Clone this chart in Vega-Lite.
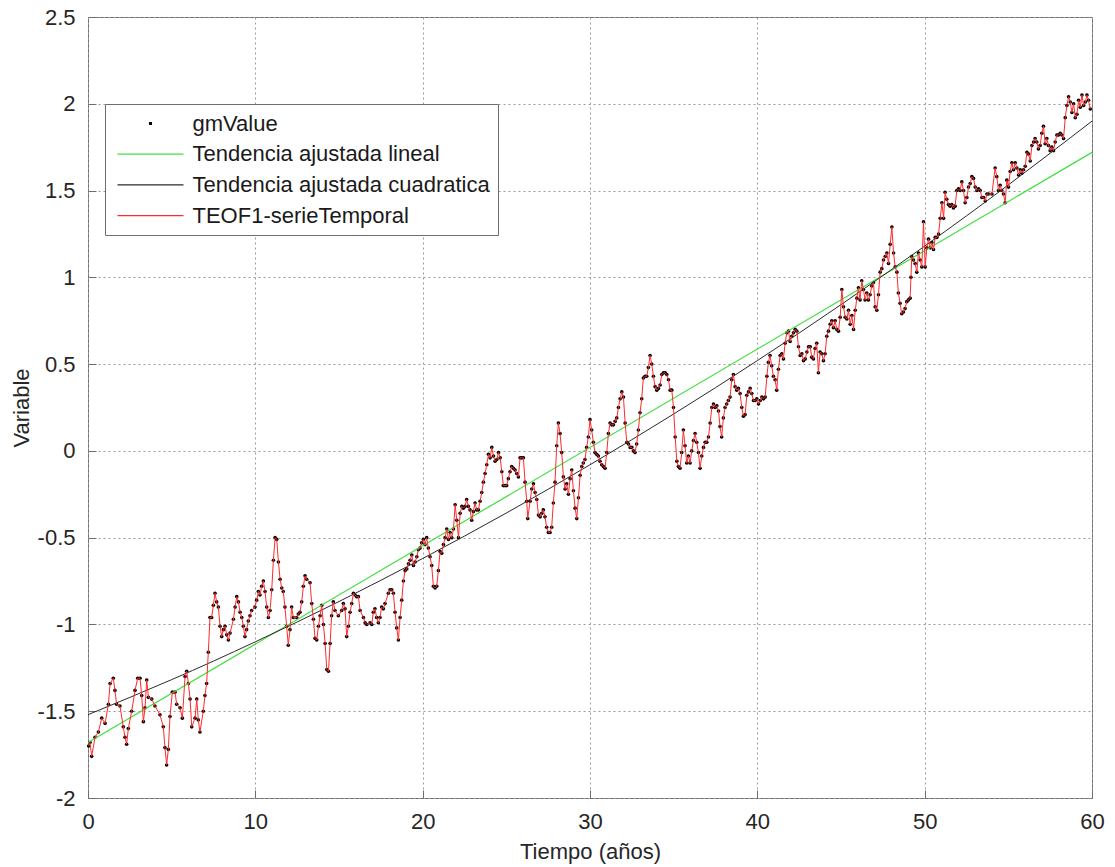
{
"$schema": "https://vega.github.io/schema/vega-lite/v6.json",
"width": 1004, "height": 781,
"autosize": {"type": "none"},
"padding": {"left": 88, "top": 17, "right": 23, "bottom": 69},
"background": "white",
"config": {"font": "Liberation Sans", "view": {"stroke": "#6e6e6e", "strokeWidth": 1}},
"datasets": {
"lin": [{"t":0,"v":-1.68},{"t":60,"v":1.72}],
"cuad": [{"t":0,"v":-1.52},{"t":5,"v":-1.318},{"t":10,"v":-1.10},{"t":15,"v":-0.868},{"t":20,"v":-0.62},{"t":25,"v":-0.358},{"t":30,"v":-0.08},{"t":35,"v":0.2125},{"t":40,"v":0.52},{"t":45,"v":0.8425},{"t":50,"v":1.18},{"t":55,"v":1.5325},{"t":60,"v":1.90}],
"serie": [
{"t":0.04,"v":-1.70},{"t":0.12,"v":-1.68},{"t":0.22,"v":-1.76},{"t":0.42,"v":-1.65},{"t":0.62,"v":-1.62},{"t":0.82,"v":-1.54},{"t":1.02,"v":-1.57},{"t":1.22,"v":-1.46},{"t":1.32,"v":-1.34},{"t":1.51,"v":-1.31},{"t":1.61,"v":-1.38},{"t":1.71,"v":-1.46},{"t":1.91,"v":-1.47},{"t":2.11,"v":-1.59},{"t":2.21,"v":-1.65},{"t":2.31,"v":-1.69},{"t":2.41,"v":-1.60},{"t":2.61,"v":-1.50},{"t":2.81,"v":-1.38},{"t":2.97,"v":-1.31},{"t":3.11,"v":-1.31},{"t":3.21,"v":-1.41},{"t":3.31,"v":-1.56},{"t":3.41,"v":-1.48},{"t":3.51,"v":-1.32},{"t":3.61,"v":-1.42},{"t":3.81,"v":-1.43},{"t":4.00,"v":-1.47},{"t":4.30,"v":-1.52},{"t":4.50,"v":-1.59},{"t":4.60,"v":-1.71},{"t":4.70,"v":-1.81},{"t":4.80,"v":-1.72},{"t":4.90,"v":-1.53},{"t":5.04,"v":-1.39},{"t":5.20,"v":-1.39},{"t":5.30,"v":-1.46},{"t":5.50,"v":-1.48},{"t":5.64,"v":-1.54},{"t":5.80,"v":-1.30},{"t":5.90,"v":-1.27},
{"t":6.00,"v":-1.34},{"t":6.10,"v":-1.43},{"t":6.20,"v":-1.59},{"t":6.40,"v":-1.54},{"t":6.50,"v":-1.43},{"t":6.59,"v":-1.55},{"t":6.69,"v":-1.62},{"t":6.89,"v":-1.50},{"t":6.99,"v":-1.41},{"t":7.09,"v":-1.34},{"t":7.19,"v":-1.16},{"t":7.29,"v":-0.96},{"t":7.39,"v":-0.96},{"t":7.49,"v":-0.89},{"t":7.59,"v":-0.82},{"t":7.69,"v":-0.87},{"t":7.79,"v":-0.90},{"t":7.89,"v":-1.01},{"t":7.99,"v":-1.07},{"t":8.09,"v":-1.03},{"t":8.19,"v":-1.01},{"t":8.29,"v":-1.06},{"t":8.39,"v":-1.09},{"t":8.49,"v":-1.05},{"t":8.69,"v":-0.97},{"t":8.79,"v":-0.90},{"t":8.89,"v":-0.84},{"t":8.99,"v":-0.87},{"t":9.09,"v":-0.93},{"t":9.19,"v":-0.96},{"t":9.28,"v":-1.01},{"t":9.38,"v":-1.07},{"t":9.48,"v":-1.03},{"t":9.58,"v":-0.98},{"t":9.68,"v":-0.95},{"t":9.78,"v":-0.92},{"t":9.98,"v":-0.90},
{"t":10.08,"v":-0.86},{"t":10.18,"v":-0.81},{"t":10.28,"v":-0.83},{"t":10.38,"v":-0.78},{"t":10.48,"v":-0.75},{"t":10.58,"v":-0.81},{"t":10.68,"v":-0.90},{"t":10.78,"v":-0.96},{"t":10.88,"v":-0.92},{"t":10.98,"v":-0.80},{"t":11.08,"v":-0.63},{"t":11.18,"v":-0.50},{"t":11.28,"v":-0.51},{"t":11.38,"v":-0.64},{"t":11.48,"v":-0.74},{"t":11.58,"v":-0.79},{"t":11.67,"v":-0.81},{"t":11.77,"v":-0.90},{"t":11.87,"v":-1.01},{"t":11.97,"v":-1.12},{"t":12.07,"v":-1.03},{"t":12.17,"v":-0.90},{"t":12.27,"v":-0.96},{"t":12.47,"v":-0.96},{"t":12.57,"v":-0.94},{"t":12.67,"v":-0.93},{"t":12.77,"v":-0.87},{"t":12.87,"v":-0.78},{"t":12.97,"v":-0.72},{"t":13.07,"v":-0.74},{"t":13.27,"v":-0.76},{"t":13.37,"v":-0.88},{"t":13.47,"v":-0.97},{"t":13.57,"v":-1.08},{"t":13.67,"v":-1.09},{"t":13.77,"v":-1.01},{"t":13.87,"v":-0.95},{"t":13.97,"v":-0.89},{"t":14.07,"v":-1.00},{"t":14.17,"v":-1.11},{"t":14.27,"v":-1.26},{"t":14.37,"v":-1.27},{"t":14.47,"v":-1.11},{"t":14.56,"v":-0.95},{"t":14.66,"v":-0.87},{"t":14.76,"v":-0.92},{"t":14.96,"v":-0.95},
{"t":15.16,"v":-0.92},{"t":15.26,"v":-0.88},{"t":15.36,"v":-0.91},{"t":15.46,"v":-1.07},{"t":15.56,"v":-1.01},{"t":15.66,"v":-0.93},{"t":15.76,"v":-0.88},{"t":15.86,"v":-0.82},{"t":15.96,"v":-0.83},{"t":16.06,"v":-0.84},{"t":16.16,"v":-0.84},{"t":16.26,"v":-0.92},{"t":16.46,"v":-0.96},{"t":16.56,"v":-0.99},{"t":16.66,"v":-1.00},{"t":16.86,"v":-0.99},{"t":16.96,"v":-1.00},{"t":17.05,"v":-0.93},{"t":17.15,"v":-0.91},{"t":17.25,"v":-0.96},{"t":17.35,"v":-0.99},{"t":17.45,"v":-0.96},{"t":17.55,"v":-0.90},{"t":17.65,"v":-0.91},{"t":17.75,"v":-0.88},{"t":17.95,"v":-0.82},{"t":18.05,"v":-0.80},{"t":18.15,"v":-0.80},{"t":18.25,"v":-0.82},{"t":18.35,"v":-0.93},{"t":18.45,"v":-1.02},{"t":18.55,"v":-1.09},{"t":18.65,"v":-0.96},{"t":18.75,"v":-0.86},{"t":18.85,"v":-0.75},{"t":18.95,"v":-0.69},{"t":19.05,"v":-0.68},{"t":19.15,"v":-0.65},{"t":19.25,"v":-0.63},{"t":19.35,"v":-0.60},{"t":19.45,"v":-0.66},{"t":19.55,"v":-0.64},{"t":19.65,"v":-0.61},{"t":19.74,"v":-0.57},{"t":19.84,"v":-0.56},{"t":19.94,"v":-0.53},
{"t":20.04,"v":-0.51},{"t":20.14,"v":-0.54},{"t":20.24,"v":-0.50},{"t":20.34,"v":-0.56},{"t":20.44,"v":-0.61},{"t":20.54,"v":-0.66},{"t":20.64,"v":-0.78},{"t":20.74,"v":-0.79},{"t":20.84,"v":-0.78},{"t":20.94,"v":-0.69},{"t":21.04,"v":-0.58},{"t":21.14,"v":-0.59},{"t":21.24,"v":-0.54},{"t":21.34,"v":-0.50},{"t":21.44,"v":-0.45},{"t":21.54,"v":-0.51},{"t":21.64,"v":-0.47},{"t":21.74,"v":-0.50},{"t":21.84,"v":-0.45},{"t":21.94,"v":-0.31},{"t":22.04,"v":-0.40},{"t":22.14,"v":-0.50},{"t":22.24,"v":-0.36},{"t":22.34,"v":-0.32},{"t":22.43,"v":-0.33},{"t":22.53,"v":-0.32},{"t":22.63,"v":-0.28},{"t":22.73,"v":-0.32},{"t":22.83,"v":-0.34},{"t":22.93,"v":-0.40},{"t":23.03,"v":-0.35},{"t":23.13,"v":-0.30},{"t":23.23,"v":-0.34},{"t":23.33,"v":-0.34},{"t":23.43,"v":-0.29},{"t":23.53,"v":-0.24},{"t":23.63,"v":-0.18},{"t":23.73,"v":-0.13},{"t":23.83,"v":-0.08},{"t":23.93,"v":-0.02},{"t":24.03,"v":-0.04},{"t":24.13,"v":0.02},{"t":24.23,"v":-0.03},{"t":24.33,"v":-0.06},{"t":24.43,"v":-0.05},{"t":24.53,"v":-0.01},{"t":24.63,"v":-0.04},{"t":24.73,"v":-0.12},{"t":24.82,"v":-0.20},{"t":24.92,"v":-0.20},
{"t":25.02,"v":-0.20},{"t":25.12,"v":-0.16},{"t":25.22,"v":-0.12},{"t":25.32,"v":-0.09},{"t":25.42,"v":-0.10},{"t":25.52,"v":-0.11},{"t":25.62,"v":-0.13},{"t":25.72,"v":-0.15},{"t":25.82,"v":-0.04},{"t":25.92,"v":-0.04},{"t":26.02,"v":-0.04},{"t":26.12,"v":-0.18},{"t":26.22,"v":-0.29},{"t":26.28,"v":-0.39},{"t":26.42,"v":-0.29},{"t":26.52,"v":-0.22},{"t":26.62,"v":-0.19},{"t":26.72,"v":-0.24},{"t":26.82,"v":-0.28},{"t":26.92,"v":-0.37},{"t":27.02,"v":-0.38},{"t":27.12,"v":-0.36},{"t":27.21,"v":-0.34},{"t":27.31,"v":-0.38},{"t":27.41,"v":-0.44},{"t":27.51,"v":-0.47},{"t":27.61,"v":-0.47},{"t":27.71,"v":-0.44},{"t":27.81,"v":-0.30},{"t":27.91,"v":-0.18},{"t":28.01,"v":0.03},{"t":28.11,"v":0.16},{"t":28.21,"v":0.10},{"t":28.31,"v":-0.01},{"t":28.41,"v":-0.15},{"t":28.51,"v":-0.22},{"t":28.61,"v":-0.19},{"t":28.71,"v":-0.25},{"t":28.81,"v":-0.16},{"t":28.91,"v":-0.11},{"t":29.01,"v":-0.23},{"t":29.11,"v":-0.33},{"t":29.21,"v":-0.39},{"t":29.31,"v":-0.27},{"t":29.41,"v":-0.14},{"t":29.51,"v":-0.09},{"t":29.60,"v":-0.07},{"t":29.70,"v":-0.05},{"t":29.80,"v":0.02},{"t":29.90,"v":0.08},
{"t":30.00,"v":0.18},{"t":30.10,"v":0.12},{"t":30.20,"v":0.05},{"t":30.30,"v":-0.01},{"t":30.40,"v":-0.02},{"t":30.50,"v":-0.03},{"t":30.60,"v":-0.06},{"t":30.70,"v":-0.08},{"t":30.80,"v":-0.09},{"t":30.90,"v":-0.10},{"t":31.00,"v":-0.01},{"t":31.10,"v":0.10},{"t":31.20,"v":0.16},{"t":31.30,"v":0.15},{"t":31.40,"v":0.15},{"t":31.50,"v":0.17},{"t":31.60,"v":0.19},{"t":31.70,"v":0.25},{"t":31.80,"v":0.30},{"t":31.90,"v":0.34},{"t":32.00,"v":0.31},{"t":32.10,"v":0.16},{"t":32.20,"v":0.05},{"t":32.30,"v":0.04},{"t":32.40,"v":0.02},{"t":32.50,"v":0.02},{"t":32.59,"v":0.00},{"t":32.69,"v":-0.01},{"t":32.79,"v":0.04},{"t":32.89,"v":0.12},{"t":32.99,"v":0.22},{"t":33.09,"v":0.30},{"t":33.19,"v":0.42},{"t":33.29,"v":0.43},{"t":33.39,"v":0.43},{"t":33.49,"v":0.48},{"t":33.59,"v":0.55},{"t":33.69,"v":0.50},{"t":33.79,"v":0.43},{"t":33.89,"v":0.37},{"t":33.99,"v":0.35},{"t":34.09,"v":0.36},{"t":34.19,"v":0.38},{"t":34.29,"v":0.44},{"t":34.39,"v":0.45},{"t":34.49,"v":0.45},{"t":34.59,"v":0.44},{"t":34.69,"v":0.41},{"t":34.79,"v":0.35},{"t":34.89,"v":0.35},{"t":34.99,"v":0.25},
{"t":35.09,"v":0.08},{"t":35.19,"v":-0.06},{"t":35.28,"v":-0.09},{"t":35.38,"v":-0.10},{"t":35.48,"v":-0.01},{"t":35.58,"v":0.12},{"t":35.68,"v":0.03},{"t":35.78,"v":-0.07},{"t":35.88,"v":-0.03},{"t":35.98,"v":-0.07},{"t":36.08,"v":0.00},{"t":36.18,"v":0.06},{"t":36.28,"v":0.10},{"t":36.38,"v":0.05},{"t":36.48,"v":-0.01},{"t":36.58,"v":-0.10},{"t":36.68,"v":-0.03},{"t":36.78,"v":0.02},{"t":36.88,"v":0.05},{"t":36.98,"v":0.05},{"t":37.08,"v":0.08},{"t":37.18,"v":0.16},{"t":37.28,"v":0.25},{"t":37.38,"v":0.27},{"t":37.48,"v":0.25},{"t":37.58,"v":0.26},{"t":37.68,"v":0.23},{"t":37.77,"v":0.14},{"t":37.87,"v":0.08},{"t":37.97,"v":0.19},{"t":38.07,"v":0.25},{"t":38.17,"v":0.27},{"t":38.27,"v":0.29},{"t":38.37,"v":0.31},{"t":38.47,"v":0.41},{"t":38.57,"v":0.44},{"t":38.67,"v":0.37},{"t":38.77,"v":0.35},{"t":38.87,"v":0.36},{"t":38.97,"v":0.33},{"t":39.07,"v":0.25},{"t":39.17,"v":0.20},{"t":39.27,"v":0.21},{"t":39.37,"v":0.32},{"t":39.47,"v":0.34},{"t":39.57,"v":0.36},{"t":39.67,"v":0.33},{"t":39.77,"v":0.29},{"t":39.87,"v":0.29},{"t":39.97,"v":0.30},
{"t":40.07,"v":0.27},{"t":40.17,"v":0.29},{"t":40.27,"v":0.31},{"t":40.37,"v":0.30},{"t":40.47,"v":0.31},{"t":40.57,"v":0.43},{"t":40.66,"v":0.51},{"t":40.76,"v":0.55},{"t":40.86,"v":0.49},{"t":40.96,"v":0.43},{"t":41.06,"v":0.41},{"t":41.16,"v":0.35},{"t":41.26,"v":0.47},{"t":41.36,"v":0.55},{"t":41.46,"v":0.56},{"t":41.56,"v":0.53},{"t":41.66,"v":0.62},{"t":41.76,"v":0.68},{"t":41.86,"v":0.69},{"t":41.96,"v":0.63},{"t":42.06,"v":0.66},{"t":42.16,"v":0.68},{"t":42.26,"v":0.70},{"t":42.36,"v":0.69},{"t":42.46,"v":0.60},{"t":42.56,"v":0.55},{"t":42.66,"v":0.56},{"t":42.76,"v":0.52},{"t":42.86,"v":0.53},{"t":42.96,"v":0.57},{"t":43.06,"v":0.60},{"t":43.16,"v":0.60},{"t":43.25,"v":0.54},{"t":43.35,"v":0.53},{"t":43.45,"v":0.59},{"t":43.55,"v":0.62},{"t":43.65,"v":0.45},{"t":43.75,"v":0.57},{"t":43.85,"v":0.56},{"t":43.95,"v":0.52},{"t":44.05,"v":0.56},{"t":44.15,"v":0.66},{"t":44.25,"v":0.69},{"t":44.35,"v":0.73},{"t":44.45,"v":0.75},{"t":44.55,"v":0.71},{"t":44.65,"v":0.75},{"t":44.75,"v":0.70},{"t":44.85,"v":0.69},{"t":44.95,"v":0.77},
{"t":45.05,"v":0.93},{"t":45.15,"v":0.83},{"t":45.25,"v":0.77},{"t":45.35,"v":0.76},{"t":45.45,"v":0.81},{"t":45.55,"v":0.73},{"t":45.65,"v":0.78},{"t":45.75,"v":0.70},{"t":45.85,"v":0.81},{"t":45.95,"v":0.88},{"t":46.04,"v":0.94},{"t":46.14,"v":0.87},{"t":46.24,"v":0.98},{"t":46.34,"v":0.93},{"t":46.44,"v":0.87},{"t":46.54,"v":0.91},{"t":46.64,"v":0.87},{"t":46.74,"v":0.90},{"t":46.84,"v":0.95},{"t":46.94,"v":0.97},{"t":47.04,"v":0.83},{"t":47.14,"v":0.81},{"t":47.24,"v":0.90},{"t":47.34,"v":1.03},{"t":47.44,"v":1.05},{"t":47.54,"v":1.10},{"t":47.64,"v":1.12},{"t":47.74,"v":1.14},{"t":47.84,"v":1.08},{"t":47.94,"v":1.19},{"t":48.04,"v":1.29},{"t":48.14,"v":1.14},{"t":48.24,"v":1.06},{"t":48.34,"v":1.03},{"t":48.43,"v":0.91},{"t":48.53,"v":0.85},{"t":48.63,"v":0.79},{"t":48.73,"v":0.80},{"t":48.83,"v":0.82},{"t":48.93,"v":0.86},{"t":49.03,"v":0.87},{"t":49.13,"v":0.88},{"t":49.18,"v":1.00},{"t":49.23,"v":1.12},{"t":49.33,"v":1.10},{"t":49.43,"v":1.08},{"t":49.53,"v":1.03},{"t":49.63,"v":1.14},{"t":49.73,"v":1.10},{"t":49.83,"v":1.06},{"t":49.93,"v":1.32},
{"t":50.03,"v":1.06},{"t":50.13,"v":1.17},{"t":50.23,"v":1.22},{"t":50.33,"v":1.17},{"t":50.43,"v":1.20},{"t":50.53,"v":1.16},{"t":50.63,"v":1.23},{"t":50.73,"v":1.23},{"t":50.83,"v":1.25},{"t":50.93,"v":1.34},{"t":51.03,"v":1.43},{"t":51.13,"v":1.34},{"t":51.22,"v":1.49},{"t":51.32,"v":1.45},{"t":51.42,"v":1.42},{"t":51.52,"v":1.41},{"t":51.62,"v":1.42},{"t":51.72,"v":1.40},{"t":51.82,"v":1.41},{"t":51.92,"v":1.50},{"t":52.02,"v":1.51},{"t":52.12,"v":1.50},{"t":52.22,"v":1.55},{"t":52.32,"v":1.50},{"t":52.42,"v":1.43},{"t":52.52,"v":1.46},{"t":52.62,"v":1.52},{"t":52.72,"v":1.54},{"t":52.82,"v":1.58},{"t":52.92,"v":1.57},{"t":53.02,"v":1.52},{"t":53.12,"v":1.50},{"t":53.22,"v":1.51},{"t":53.32,"v":1.50},{"t":53.42,"v":1.46},{"t":53.52,"v":1.46},{"t":53.62,"v":1.44},{"t":53.72,"v":1.48},{"t":53.82,"v":1.48},{"t":54.02,"v":1.48},{"t":54.21,"v":1.63},{"t":54.31,"v":1.58},{"t":54.41,"v":1.50},{"t":54.51,"v":1.53},{"t":54.61,"v":1.50},{"t":54.71,"v":1.48},{"t":54.81,"v":1.43},{"t":54.91,"v":1.56},
{"t":55.01,"v":1.52},{"t":55.11,"v":1.61},{"t":55.21,"v":1.66},{"t":55.31,"v":1.62},{"t":55.41,"v":1.66},{"t":55.51,"v":1.63},{"t":55.61,"v":1.59},{"t":55.71,"v":1.62},{"t":55.81,"v":1.60},{"t":55.91,"v":1.62},{"t":56.01,"v":1.64},{"t":56.11,"v":1.72},{"t":56.21,"v":1.71},{"t":56.31,"v":1.67},{"t":56.41,"v":1.76},{"t":56.51,"v":1.78},{"t":56.60,"v":1.80},{"t":56.70,"v":1.78},{"t":56.80,"v":1.74},{"t":56.90,"v":1.76},{"t":57.00,"v":1.83},{"t":57.10,"v":1.87},{"t":57.20,"v":1.77},{"t":57.30,"v":1.80},{"t":57.40,"v":1.76},{"t":57.50,"v":1.73},{"t":57.60,"v":1.75},{"t":57.70,"v":1.73},{"t":57.80,"v":1.78},{"t":57.90,"v":1.82},{"t":58.00,"v":1.82},{"t":58.10,"v":1.83},{"t":58.20,"v":1.82},{"t":58.30,"v":1.80},{"t":58.40,"v":1.92},{"t":58.50,"v":1.99},{"t":58.60,"v":2.04},{"t":58.70,"v":2.01},{"t":58.80,"v":1.95},{"t":58.90,"v":2.00},{"t":59.00,"v":1.92},{"t":59.10,"v":1.94},{"t":59.20,"v":2.02},{"t":59.30,"v":1.98},{"t":59.40,"v":2.05},{"t":59.50,"v":1.99},{"t":59.60,"v":2.01},{"t":59.70,"v":2.05},{"t":59.79,"v":2.02},{"t":59.90,"v":1.97}
]
},
"encoding": {
"x": {"field": "t", "type": "quantitative", "title": "Tiempo (años)",
 "scale": {"domain": [0, 60], "nice": false, "zero": false},
 "axis": {"values": [0,10,20,30,40,50,60], "labelExpr": "'' + datum.value", "grid": true, "gridDash": [2,3], "gridColor": "#9a9a9a", "gridWidth": 1, "domain": false, "tickSize": -8, "tickColor": "#6e6e6e", "labelPadding": 21, "labelFontSize": 22, "labelColor": "#262626", "labelFlush": false, "labelOverlap": false, "titleFontSize": 22, "titleFontWeight": "normal", "titleColor": "#262626", "titleY": 53, "titleBaseline": "middle"}},
"y": {"field": "v", "type": "quantitative", "title": "Variable",
 "scale": {"domain": [-2, 2.5], "nice": false, "zero": false},
 "axis": {"values": [-2,-1.5,-1,-0.5,0,0.5,1,1.5,2,2.5], "labelExpr": "'' + datum.value", "grid": true, "gridDash": [2,3], "gridColor": "#9a9a9a", "gridWidth": 1, "domain": false, "tickSize": -8, "tickColor": "#6e6e6e", "labelPadding": 21, "labelFontSize": 22, "labelColor": "#262626", "labelOverlap": false, "labelFlush": false, "titleFontSize": 22, "titleFontWeight": "normal", "titleColor": "#262626", "titleX": -67, "titleY": 390.5, "titleAngle": -90, "titleAlign": "center", "titleBaseline": "middle"}}
},
"layer": [
{"data": {"name": "serie"}, "mark": {"type": "point", "filled": true, "size": 13, "opacity": 1},
 "encoding": {"color": {"datum": "gmValue", "type": "nominal",
  "scale": {"domain": ["gmValue", "Tendencia ajustada lineal", "Tendencia ajustada cuadratica", "TEOF1-serieTemporal"], "range": ["#000000", "#3fe03f", "#2a2a2a", "#ff2a2a"]},
  "legend": {"title": null, "orient": "none", "legendX": 17, "legendY": 87, "direction": "vertical",
   "symbolType": "M-3,0H3", "symbolSize": 484, "symbolStrokeWidth": 1.3, "symbolOffset": 26, "labelOffset": 30,
   "labelFontSize": 22, "labelColor": "#1a1a1a", "labelLimit": 600, "rowPadding": 7.7, "padding": 7.5,
   "strokeColor": "#6e6e6e", "fillColor": "#ffffff",
   "encoding": {"symbols": {
     "shape": {"condition": {"test": "datum.value === 'gmValue'", "value": "M-0.08,-0.08H0.08V0.08H-0.08Z"}, "value": "M-3,0H3"},
     "fill": {"condition": {"test": "datum.value === 'gmValue'", "value": "#000000"}, "value": "transparent"},
     "opacity": {"value": 1}}}}}}},
{"data": {"name": "lin"}, "mark": {"type": "line", "strokeWidth": 1.2},
 "encoding": {"color": {"datum": "Tendencia ajustada lineal", "type": "nominal"}}},
{"data": {"name": "cuad"}, "mark": {"type": "line", "strokeWidth": 1, "interpolate": "natural"},
 "encoding": {"color": {"datum": "Tendencia ajustada cuadratica", "type": "nominal"}}},
{"data": {"name": "serie"}, "mark": {"type": "line", "strokeWidth": 1},
 "encoding": {"color": {"datum": "TEOF1-serieTemporal", "type": "nominal"}}}
]
}
